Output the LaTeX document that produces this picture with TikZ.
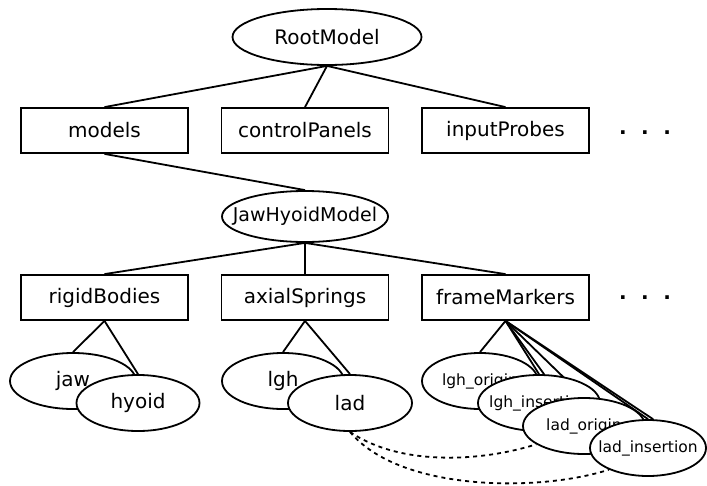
\documentclass[tikz,border=0pt]{standalone}
\usepackage{fontspec}
\setmainfont{DejaVu Sans}
\usepackage{tikz}
\usetikzlibrary{shapes.geometric, backgrounds}

\begin{document}
\begin{tikzpicture}[x=1pt, y=-1pt, line width=1.8pt,
    font=\fontsize{20}{24}\selectfont,
    box/.style={draw, fill=white, minimum width=167pt, minimum height=45pt, inner sep=0pt},
    oval/.style={draw, ellipse, fill=white, inner sep=0pt, minimum height=56pt},
    small/.style={font=\fontsize{15.5}{18}\selectfont}]
    \useasboundingbox (0, 0) rectangle (707, 485);

    \node[oval, minimum width=189pt, label=center:RootModel] (root) at (327, 37) {};
    \node[box] (models) at (104.5, 130.5) {models};
    \node[box] (ctrl) at (305, 130.5) {controlPanels};
    \node[box] (probes) at (505.5, 130.5) {inputProbes};
    \node[anchor=base, font=\fontsize{20}{24}\bfseries] (dotsA) at (645, 134) {.\hskip14.5pt.\hskip14.5pt.};

    \node[oval, minimum width=166pt, minimum height=51pt,
        label={[font=\fontsize{19}{22}\selectfont]center:JawHyoidModel}] (jhm) at (305, 216.5) {};
    \node[box] (rigid) at (104.5, 297.5) {rigidBodies};
    \node[box] (springs) at (305, 297.5) {axialSprings};
    \node[box] (markers) at (505.5, 297.5) {frameMarkers};
    \node[anchor=base, font=\fontsize{20}{24}\bfseries] (dotsB) at (645, 299) {.\hskip14.5pt.\hskip14.5pt.};

    \node[oval, minimum width=126pt, label=center:jaw] (jaw) at (73, 381) {};
    \node[oval, minimum width=123pt, label=center:hyoid] (hyoid) at (138, 403) {};
    \node[oval, minimum width=122pt, label=center:lgh] (lgh) at (283, 381) {};
    \node[oval, minimum width=124pt, label=center:lad] (lad) at (350, 403) {};

    \node[oval, minimum width=116pt, label={[small]center:lgh\_origin}] (lghorig) at (480, 381) {};
    \node[oval, minimum width=122pt, label={[small]center:lgh\_insertion}] (lghins) at (539, 403) {};
    \node[oval, minimum width=122pt, label={[small]center:lad\_origin}] (ladorig) at (584, 426) {};
    \node[oval, minimum width=116pt, label={[small]center:lad\_insertion}] (ladins) at (648, 448) {};

    \begin{scope}[on background layer={line width=1.8pt}]
        \draw (root.south) -- (models.north);
        \draw (root.south) -- (ctrl.north);
        \draw (root.south) -- (probes.north);
        \draw (models.south) -- (jhm.north);
        \draw (jhm.south) -- (rigid.north);
        \draw (jhm.south) -- (springs.north);
        \draw (jhm.south) -- (markers.north);
        \draw (rigid.south) -- (jaw.north);
        \draw (rigid.south) -- (hyoid.north);
        \draw (springs.south) -- (lgh.north);
        \draw (springs.south) -- (lad.north);
        \draw (markers.south) -- (lghorig.north);
        \draw (markers.south) -- (lghins.north);
        \draw (markers.south) -- (lghins.80);
        \draw (markers.south) -- (ladorig.north);
        \draw (markers.south) -- (ladins.north);
        \draw (markers.south) -- (ladins.80);
        % dashed links from lad
        \draw[dash pattern=on 4pt off 4pt] (lad.south) .. controls (400, 466) and (480, 462) .. (ladorig.201);
        \draw[dash pattern=on 4pt off 4pt] (lad.south) .. controls (400, 492) and (540, 492) .. (ladins.209);
    \end{scope}
\end{tikzpicture}
\end{document}
